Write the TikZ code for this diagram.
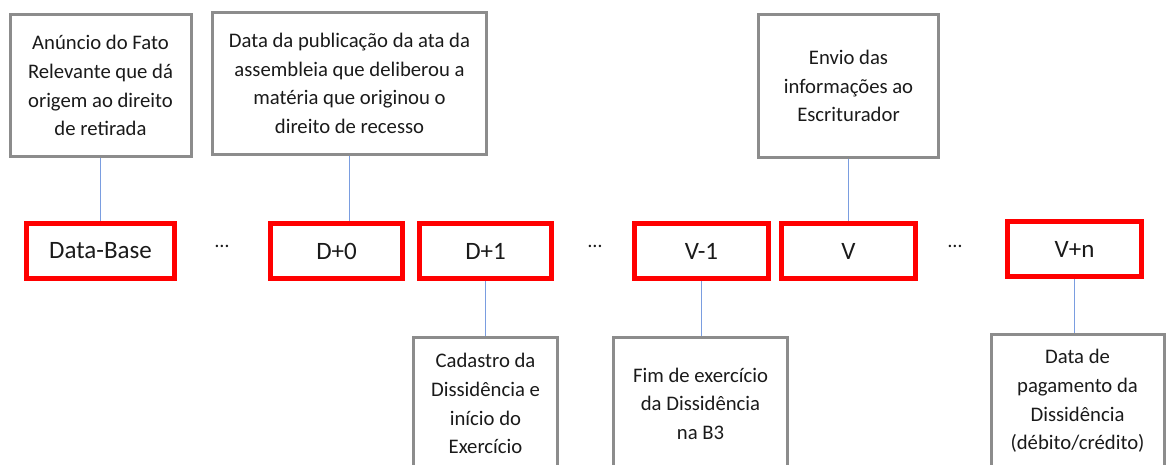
\documentclass[tikz,border=0pt]{standalone}
\usepackage{fontspec}
\setmainfont{Carlito}
\definecolor{boxgray}{HTML}{8C8C8C}
\definecolor{linkblue}{HTML}{7A9DE0}
\definecolor{txt}{HTML}{1A1A1A}
\tikzset{
  infobox/.style={draw=boxgray, line width=3pt, inner sep=0pt, align=center, text=txt,
    font=\fontsize{20.7}{28.7}\selectfont},
  datebox/.style={draw=red, line width=5pt, inner sep=0pt, text=txt,
    font=\fontsize{25}{30}\selectfont},
  link/.style={draw=linkblue, line width=1.3pt},
  gap/.style={inner sep=0pt, anchor=base, text=txt, font=\fontsize{20}{24}\selectfont}
}
\begin{document}
\begin{tikzpicture}[x=1pt,y=-1pt]
\useasboundingbox (0,0) rectangle (1167,464);
\clip (0,0) rectangle (1167,464);
% top boxes
\node[infobox, minimum width=181pt, minimum height=142pt] (g1) at (100.5,85.7)
  {Anúncio do Fato\\Relevante que dá\\origem ao direito\\de retirada};
\node[infobox, minimum width=274.6pt, minimum height=142pt] (g2) at (349.5,83.5)
  {Data da publicação da ata da\\assembleia que deliberou a\\matéria que originou o\\direito de recesso};
\node[infobox, minimum width=180pt, minimum height=143pt] (g3) at (848.5,86)
  {Envio das\\informações ao\\Escriturador};
% date boxes
\node[datebox, minimum width=148pt, minimum height=55pt] (r1) at (100.5,251) {Data-Base};
\node[datebox, minimum width=132pt, minimum height=55pt] (r2) at (336.5,251) {D+0};
\node[datebox, minimum width=132pt, minimum height=55pt] (r3) at (485.5,251) {D+1};
\node[datebox, minimum width=134pt, minimum height=55pt] (r4) at (701.5,251) {V-1};
\node[datebox, minimum width=134pt, minimum height=55pt] (r5) at (848.5,251) {V};
\node[datebox, minimum width=134pt, minimum height=55pt] (r6) at (1074.5,249) {V+n};
% ellipses
\node[gap] (d1) at (222,247) {…};
\node[gap] (d2) at (595,247) {…};
\node[gap] (d3) at (955,247) {…};
% bottom boxes
\node[infobox, minimum width=144pt, minimum height=132.5pt] (g4) at (485.5,403.75)
  {Cadastro da\\Dissidência e\\início do\\Exercício};
\node[infobox, minimum width=174pt, minimum height=132.5pt] (g5) at (700.5,403.75)
  {Fim de exercício\\da Dissidência\\na B3};
\node[infobox, minimum width=173pt, minimum height=133.5pt] (g6) at (1077.5,401)
  {Data de\\pagamento da\\Dissidência\\(débito/crédito)};
% connectors
\path[link] (g1.south) -- (g1.south |- r1.north);
\path[link] (g2.south) -- (g2.south |- r2.north);
\path[link] (g3.south) -- (g3.south |- r5.north);
\path[link] (r3.south) -- (r3.south |- g4.north);
\path[link] (r4.south) -- (r4.south |- g5.north);
\path[link] (r6.south) -- (r6.south |- g6.north);
\end{tikzpicture}
\end{document}
